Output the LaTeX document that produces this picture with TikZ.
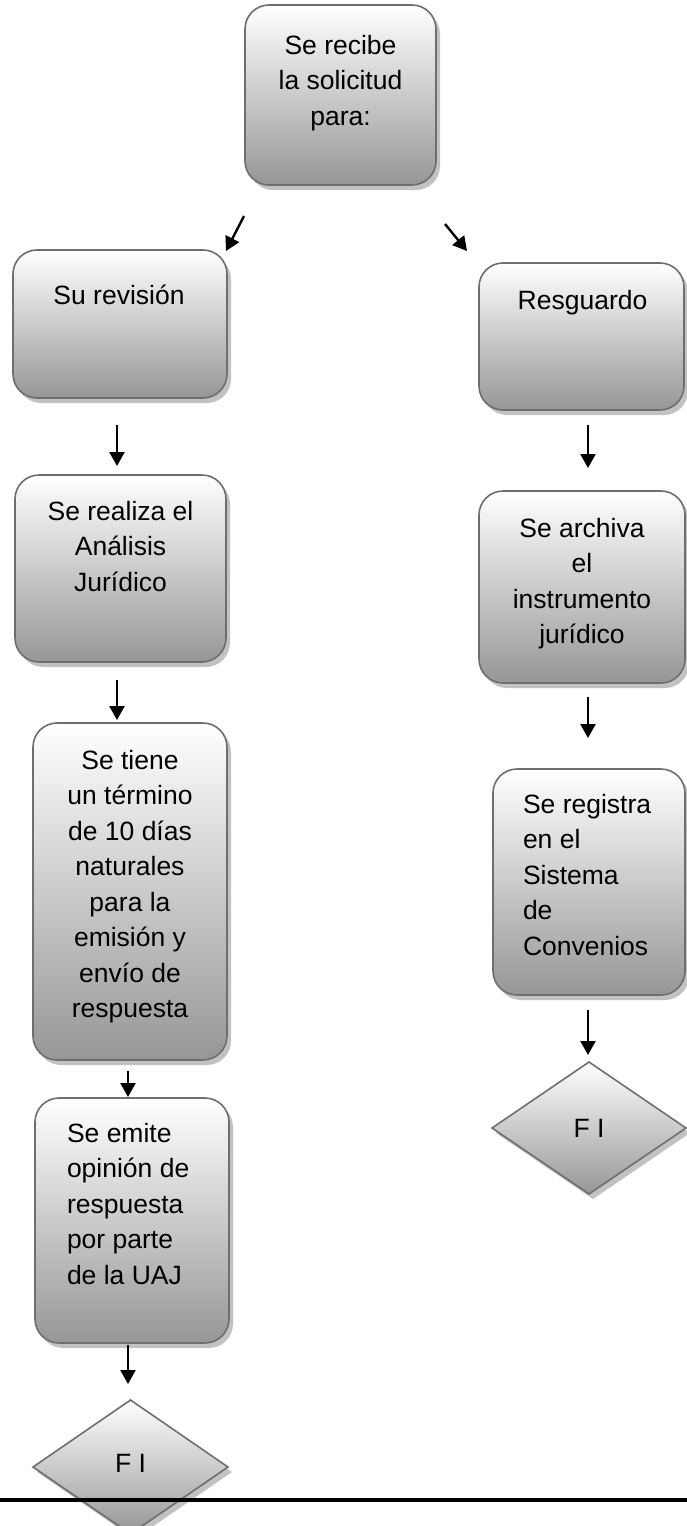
\documentclass[tikz,border=0pt]{standalone}
\usepackage{fontspec}
\setmainfont{Liberation Sans}
\usetikzlibrary{shapes.geometric,shadows,arrows.meta}

\newlength{\du}
\setlength{\du}{1pt}

\definecolor{boxlinecolor}{rgb}{0.430000, 0.430000, 0.430000}
\definecolor{boxtopcolor}{rgb}{1.000000, 1.000000, 1.000000}
\definecolor{boxmidcolor}{rgb}{0.870000, 0.870000, 0.870000}
\definecolor{boxbotcolor}{rgb}{0.590000, 0.590000, 0.590000}
\definecolor{boxshadecolor}{rgb}{0.760000, 0.760000, 0.760000}

\tikzset{
  flowbox/.style={draw=boxlinecolor, line width=1.6pt, rounded corners=24pt,
    top color=boxtopcolor, middle color=boxmidcolor, bottom color=boxbotcolor,
    drop shadow={shadow xshift=4pt, shadow yshift=-5pt, fill=boxshadecolor, opacity=1},
    inner sep=0pt, outer sep=0pt},
  flowend/.style={flowbox, rounded corners=0pt, shape=diamond, font=\fontsize{26.5}{35.5}\selectfont},
  flowtext/.style={inner sep=0pt, outer sep=0pt, font=\fontsize{26.5}{35.5}\selectfont},
  flowarrow/.style={line width=2.4pt, -{Triangle[length=14pt,width=15pt]}}
}

\begin{document}
\begin{tikzpicture}[x=\du, y=-\du]
\useasboundingbox (0,0) rectangle (687,1526);

% boxes
\node[flowbox, minimum width=191\du, minimum height=180\du] (recibe) at (340.5,95) {};
\node[flowbox, minimum width=214\du, minimum height=148\du] (revision) at (120,324) {};
\node[flowbox, minimum width=205\du, minimum height=147\du] (resguardo) at (581.5,336.5) {};
\node[flowbox, minimum width=211\du, minimum height=187\du] (analisis) at (120.5,568.5) {};
\node[flowbox, minimum width=206\du, minimum height=192\du] (archiva) at (582,587) {};
\node[flowbox, minimum width=194\du, minimum height=337\du] (termino) at (130,891.5) {};
\node[flowbox, minimum width=192\du, minimum height=226\du] (registra) at (589,882) {};
\node[flowbox, minimum width=194\du, minimum height=245\du] (emite) at (132,1220.5) {};
\node[flowend, minimum width=194\du, minimum height=132\du] (finA) at (589,1128) {F I};
\node[flowend, minimum width=195\du, minimum height=134\du] (finB) at (130.5,1467) {\raisebox{7pt}{F I}};

% setfont left to latex
\node[flowtext, anchor=north, align=center] (trecibe) at (340.5,35) {Se recibe\\la solicitud\\para:};
\node[flowtext, anchor=north, align=center] (trevision) at (119,285) {Su revisión};
\node[flowtext, anchor=north, align=center] (tresguardo) at (582.5,290) {Resguardo};
\node[flowtext, anchor=north, align=center] (tanalisis) at (120.5,501) {Se realiza el\\Análisis\\Jurídico};
\node[flowtext, anchor=north, align=center] (tarchiva) at (582,518) {Se archiva\\el\\instrumento\\jurídico};
\node[flowtext, anchor=north, align=center] (ttermino) at (130,750) {Se tiene\\un término\\de 10 días\\naturales\\para la\\emisión y\\envío de\\respuesta};
\node[flowtext, anchor=north west, align=left] (tregistra) at (523,794) {Se registra\\en el\\Sistema\\de\\Convenios};
\node[flowtext, anchor=north west, align=left] (temite) at (67,1123) {Se emite\\opinión de\\respuesta\\por parte\\de la UAJ};

% arrows
\coordinate (a1s) at (244,216);
\coordinate (a1e) at (226,251);
\coordinate (a2s) at (445,224);
\coordinate (a2e) at (467,251);
\coordinate (a3s) at (117,425);
\coordinate (a3e) at (117,466);
\coordinate (a4s) at (117,680);
\coordinate (a4e) at (117,720);
\coordinate (a5s) at (128,1071);
\coordinate (a5e) at (128,1097);
\coordinate (a6s) at (128,1345);
\coordinate (a6e) at (128,1384);
\coordinate (a7s) at (588,425);
\coordinate (a7e) at (588,468);
\coordinate (a8s) at (588,697);
\coordinate (a8e) at (588,738);
\coordinate (a9s) at (588,1010);
\coordinate (a9e) at (588,1055);
\foreach \n in {1,...,9}
  \draw[flowarrow] (a\n s) -- (a\n e);

% rule
\coordinate (rulew) at (0,1500);
\coordinate (rulee) at (687,1500);
\draw[line width=4.5pt] (rulew) -- (rulee);
\end{tikzpicture}
\end{document}
